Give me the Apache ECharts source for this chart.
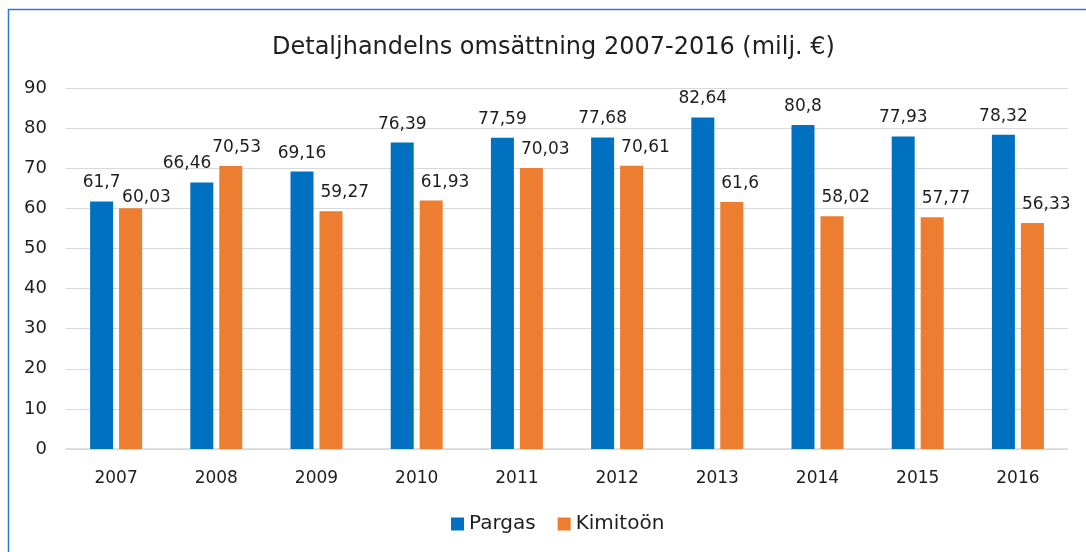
<!DOCTYPE html>
<html>
<head>
<meta charset="utf-8">
<script src="https://cdn.jsdelivr.net/npm/echarts@6/dist/echarts.min.js"></script>
<style>
  html, body { margin: 0; padding: 0; background: #fff; }
  #chart { width: 1086px; height: 552px; }
</style>
</head>
<body>
<div id="chart"></div>
<script>
// år och värden
var years = ['2007', '2008', '2009', '2010', '2011', '2012', '2013', '2014', '2015', '2016'];
var pargas = [61.7, 66.46, 69.16, 76.39, 77.59, 77.68, 82.64, 80.8, 77.93, 78.32];
var kimitoon = [60.03, 70.53, 59.27, 61.93, 70.03, 70.61, 61.6, 58.02, 57.77, 56.33];

var font = '"DejaVu Sans", sans-serif';
var txt = '#1e1e1e';
var BAR_W = 23;
var fmt = function (p) { return String(p.value).replace('.', ','); };

// etiketterna: Pargas centrerad, Kimitoön vänsterställd mot stapeln
// (2007/2008 flyttade för att inte krocka)
var pargasData = pargas.map(function (v, i) {
  if (years[i] === '2008') {
    return { value: v, label: { position: [BAR_W - 2, -10], align: 'right', verticalAlign: 'bottom' } };
  }
  return v;
});
var kimitoonData = kimitoon.map(function (v, i) {
  if (years[i] === '2008') {
    return { value: v, label: { position: [-7, -10] } };
  }
  if (years[i] === '2007') {
    return { value: v, label: { position: [3, -2] } };
  }
  return v;
});

var lblStyle = { show: true, formatter: fmt, fontFamily: font, fontSize: 17, color: txt };

var myChart = echarts.init(document.getElementById('chart'));
myChart.setOption({
  animation: false,
  textStyle: { fontFamily: font },
  title: {
    text: 'Detaljhandelns omsättning 2007-2016 (milj. €)',
    left: 267, top: 31,
    textStyle: { fontFamily: font, fontSize: 24, fontWeight: 'normal', color: txt }
  },
  graphic: [{
    type: 'rect',
    shape: { x: 8.5, y: 9.5, width: 1090, height: 560 },
    style: { fill: 'none', stroke: '#2a7bd1', lineWidth: 1.5 },
    silent: true
  }],
  legend: {
    bottom: 13, left: 446,
    itemWidth: 13, itemHeight: 13, itemGap: 22,
    icon: 'rect',
    textStyle: { fontFamily: font, fontSize: 20, color: txt }
  },
  grid: { left: 66, right: 18, top: 88, bottom: 103 },
  xAxis: {
    type: 'category', data: years,
    axisLine: { lineStyle: { color: '#d9d9d9', width: 1.5 } },
    axisTick: { show: false },
    axisLabel: { fontFamily: font, fontSize: 17, color: txt, margin: 21 }
  },
  yAxis: {
    type: 'value', min: 0, max: 90, interval: 10,
    axisLine: { show: false },
    axisTick: { show: false },
    splitLine: { lineStyle: { color: '#d9d9d9', width: 1 } },
    axisLabel: { fontFamily: font, fontSize: 18, color: txt, margin: 19 }
  },
  series: [{
    name: 'Pargas', type: 'bar', data: pargasData,
    barWidth: BAR_W, barGap: '26%',
    itemStyle: { color: '#0070c0' },
    label: Object.assign({ position: 'top', distance: 10 }, lblStyle)
  }, {
    name: 'Kimitoön', type: 'bar', data: kimitoonData,
    barWidth: BAR_W,
    itemStyle: { color: '#ed7d31' },
    label: Object.assign({ position: [1, -10], align: 'left', verticalAlign: 'bottom' }, lblStyle)
  }]
});
</script>
</body>
</html>
